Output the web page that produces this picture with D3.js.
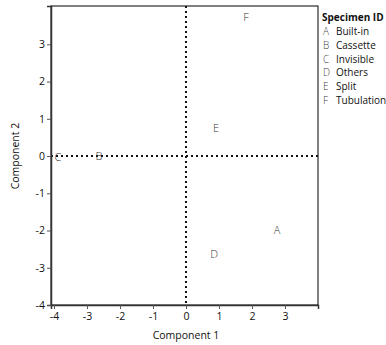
<!DOCTYPE html>
<html>
<head>
<meta charset="utf-8">
<script src="https://cdn.jsdelivr.net/npm/d3@7"></script>
<style>
  body { margin: 0; background: #fff; }
  text { font-family: "Open Sans", "Noto Sans", sans-serif; }
</style>
</head>
<body>
<div id="chart"></div>
<script>
// specimen data
var ids = ["A", "B", "C", "D", "E", "F"];
var names = ["Built-in", "Cassette", "Invisible", "Others", "Split", "Tubulation"];
var comp1 = [2.76, -2.64, -3.88, 0.85, 0.91, 1.82];
var comp2 = [-1.99, 0.0, -0.03, -2.63, 0.75, 3.74];
var xTicks = [-4, -3, -2, -1, 0, 1, 2, 3];
var yTicks = [-4, -3, -2, -1, 0, 1, 2, 3];

var width = 386, height = 345;
var margin = { top: 6, right: 68, bottom: 40, left: 51 };

var svg = d3.select("#chart").append("svg")
    .attr("width", width)
    .attr("height", height);

var x = d3.scaleLinear()
    .domain([-4.09, 4.0])
    .range([margin.left, width - margin.right]);

var y = d3.scaleLinear()
    .domain([-4, 4.03])
    .range([height - margin.bottom, margin.top]);

// frame
svg.append("rect")
    .attr("x", margin.left)
    .attr("y", margin.top)
    .attr("width", x.range()[1] - x.range()[0])
    .attr("height", y.range()[0] - y.range()[1])
    .attr("fill", "none")
    .attr("stroke", "#000")
    .attr("stroke-width", 1);

// reference lines at zero
svg.append("line")
    .attr("x1", x(0)).attr("x2", x(0))
    .attr("y1", y.range()[1]).attr("y2", y.range()[0])
    .attr("stroke", "#111")
    .attr("stroke-width", 2)
    .attr("stroke-dasharray", "2,3");

svg.append("line")
    .attr("x1", x.range()[0]).attr("x2", x.range()[1])
    .attr("y1", y(0)).attr("y2", y(0))
    .attr("stroke", "#111")
    .attr("stroke-width", 2)
    .attr("stroke-dasharray", "2,3");

// axes
var xAxis = svg.append("g")
    .attr("transform", "translate(0," + y.range()[0] + ")")
    .call(d3.axisBottom(x).tickValues(xTicks).tickSize(4).tickPadding(4));

var yAxis = svg.append("g")
    .attr("transform", "translate(" + margin.left + ",0)")
    .call(d3.axisLeft(y).tickValues(yTicks).tickSize(4).tickPadding(2));

[xAxis, yAxis].forEach(function(g){
    g.select(".domain").attr("stroke", "#333").attr("stroke-width", 1.5);
    g.selectAll(".tick line").attr("stroke", "#555");
    g.selectAll("text")
        .style("font-size", "10.5px")
        .attr("fill", "#111")
        .text(function(d){ return d < 0 ? "-" + Math.abs(d) : d; });
});

// axis titles
svg.append("text")
    .attr("x", x(0))
    .attr("y", 339)
    .attr("text-anchor", "middle")
    .style("font-size", "10.5px")
    .attr("fill", "#111")
    .text("Component 1");

svg.append("text")
    .attr("transform", "translate(19," + y(0) + ") rotate(-90)")
    .attr("text-anchor", "middle")
    .style("font-size", "10.5px")
    .attr("fill", "#111")
    .text("Component 2");

// points drawn as letters
svg.selectAll(".pt")
    .data(ids)
    .enter().append("text")
    .attr("class", "pt")
    .attr("x", function(d, i){ return x(comp1[i]); })
    .attr("y", function(d, i){ return y(comp2[i]); })
    .attr("dy", "0.35em")
    .attr("text-anchor", "middle")
    .style("font-size", "11px")
    .style("font-weight", 300)
    .attr("fill", "#333")
    .text(function(d){ return d; });

// legend
var lg = svg.append("g").attr("transform", "translate(322,0)");
lg.append("text")
    .attr("x", 0).attr("y", 21)
    .style("font-size", "10px")
    .style("font-weight", "bold")
    .attr("fill", "#111")
    .text("Specimen ID");

var row = lg.selectAll(".lrow")
    .data(ids)
    .enter().append("g")
    .attr("class", "lrow")
    .attr("transform", function(d, i){ return "translate(0," + (35 + i * 13.8) + ")"; });

row.append("text")
    .attr("x", 1)
    .style("font-size", "10px")
    .style("font-weight", 300)
    .attr("fill", "#444")
    .text(function(d){ return d; });

row.append("text")
    .attr("x", 14)
    .style("font-size", "10px")
    .attr("fill", "#111")
    .text(function(d, i){ return names[i]; });
</script>
</body>
</html>
